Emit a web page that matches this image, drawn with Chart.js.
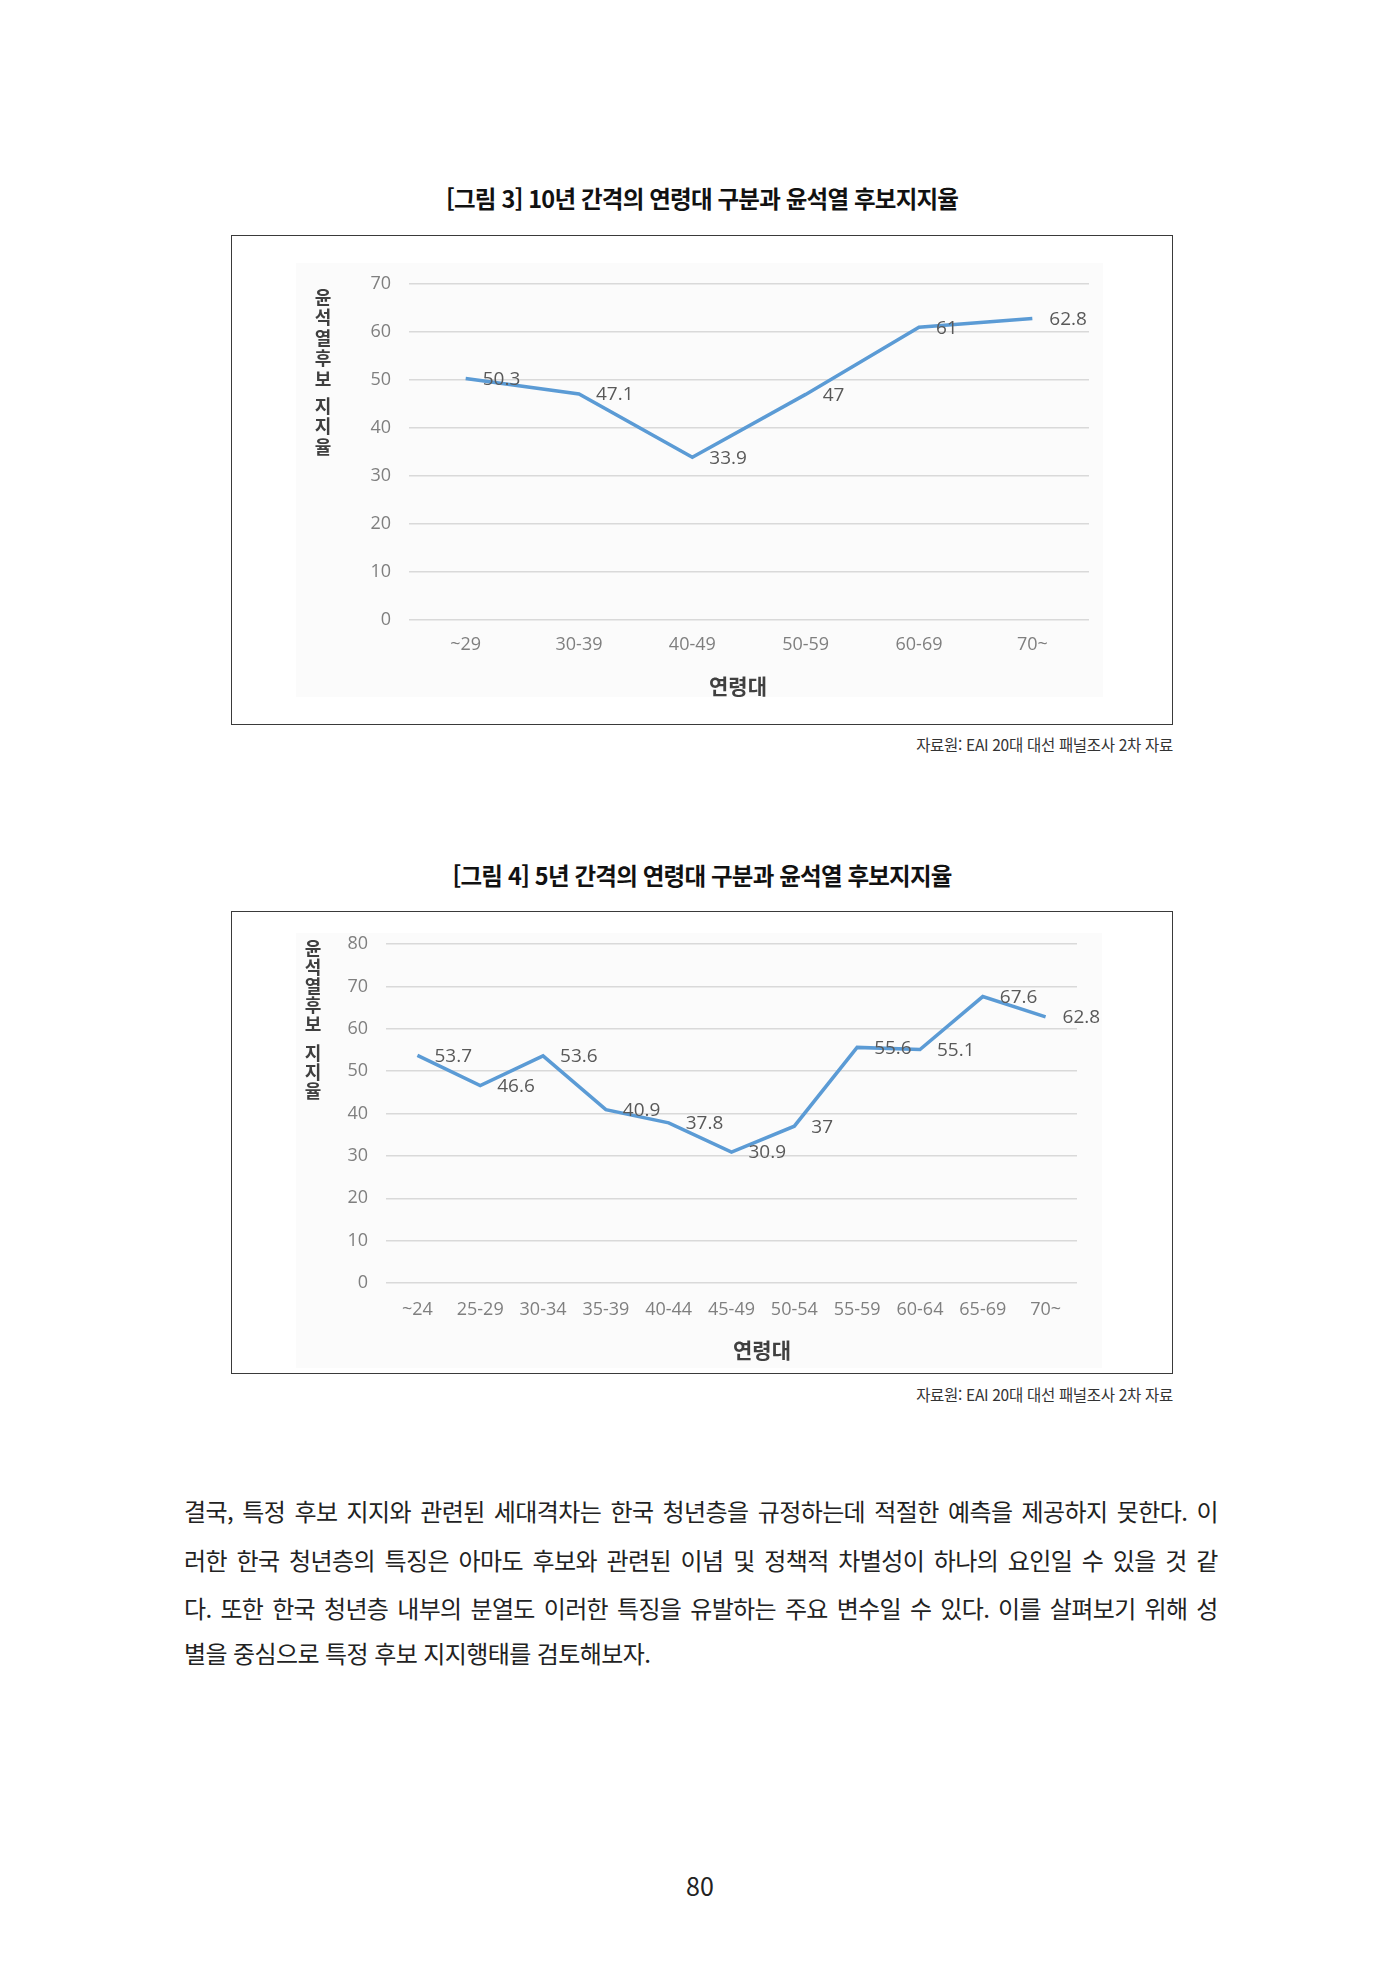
<!DOCTYPE html>
<html lang="ko">
<head>
<meta charset="utf-8">
<title>연령대 구분과 윤석열 후보지지율</title>
<script src="https://cdn.jsdelivr.net/npm/chart.js@4.4.1/dist/chart.umd.min.js"></script>
<style>
    html, body { margin: 0; padding: 0; background: #fff; }
    body { position: relative; width: 1400px; height: 1980px; overflow: hidden;
           font-family: "Noto Sans CJK KR", "Noto Sans", sans-serif; color: #222; }
    .fig-title { position: absolute; left: 302px; width: 800px; text-align: center;
                 font-size: 23.5px; font-weight: 700; color: #111; letter-spacing: -0.8px; line-height: 30px; }
    .frame { position: absolute; border: 1.5px solid #3a3a3a; box-sizing: border-box; }
    .plot-bg { position: absolute; background: #fbfbfb; }
    .source { position: absolute; right: 227px; font-size: 15.5px; color: #333; line-height: 20px; letter-spacing: -0.3px; }
    canvas { position: absolute; }
    .body-line { position: absolute; left: 184px; width: 1034px; font-size: 24px; line-height: 30px;
                 color: #222; white-space: nowrap; letter-spacing: -0.6px; }
    .justify { display: flex; justify-content: space-between; }
    .page-no { position: absolute; left: 600px; width: 200px; top: 1869px; text-align: center;
               font-size: 25px; line-height: 32px; color: #222; }
</style>
</head>
<body>

<div class="fig-title" style="top:183px;">[그림 3] 10년 간격의 연령대 구분과 윤석열 후보지지율</div>
<div class="frame" style="left:231px; top:235px; width:942px; height:490px;"></div>
<div class="plot-bg" style="left:296px; top:263px; width:807px; height:434px;"></div>
<canvas id="chartTen" width="940" height="487" style="left:232px; top:236px;"></canvas>
<div class="source" style="top:734px;">자료원: EAI 20대 대선 패널조사 2차 자료</div>

<div class="fig-title" style="top:860px;">[그림 4] 5년 간격의 연령대 구분과 윤석열 후보지지율</div>
<div class="frame" style="left:231px; top:911px; width:942px; height:463px;"></div>
<div class="plot-bg" style="left:296px; top:933px; width:806px; height:435px;"></div>
<canvas id="chartFive" width="940" height="459" style="left:232px; top:913px;"></canvas>
<div class="source" style="top:1384px;">자료원: EAI 20대 대선 패널조사 2차 자료</div>

<div id="bodyText"></div>
<div class="page-no">80</div>

<script>
// 10년 간격 연령대 (그림 3)
const tenYearAges = ['~29', '30-39', '40-49', '50-59', '60-69', '70~'];
const tenYearSupport = [50.3, 47.1, 33.9, 47, 61, 62.8];
const tenYearAxisMax = 70;

// 5년 간격 연령대 (그림 4)
const fiveYearAges = ['~24', '25-29', '30-34', '35-39', '40-44', '45-49', '50-54', '55-59', '60-64', '65-69', '70~'];
const fiveYearSupport = [53.7, 46.6, 53.6, 40.9, 37.8, 30.9, 37, 55.6, 55.1, 67.6, 62.8];
const fiveYearAxisMax = 80;

// axis titles
const yTitleText = '윤석열후보 지지율';
const xTitleText = '연령대';

// paragraph under the charts, one entry per printed line
const bodyLines = [
    '결국, 특정 후보 지지와 관련된 세대격차는 한국 청년층을 규정하는데 적절한 예측을 제공하지 못한다. 이',
    '러한 한국 청년층의 특징은 아마도 후보와 관련된 이념 및 정책적 차별성이 하나의 요인일 수 있을 것 같',
    '다. 또한 한국 청년층 내부의 분열도 이러한 특징을 유발하는 주요 변수일 수 있다. 이를 살펴보기 위해 성',
    '별을 중심으로 특정 후보 지지행태를 검토해보자.'
];

const lineBlue = '#5b9bd5';
const numFont = '"Open Sans", "Noto Sans", sans-serif';
const korFont = '"Noto Sans CJK KR", sans-serif';

// value labels to the right of each point + the two axis titles
const annotatePlugin = {
    id: 'annotate',
    afterDatasetsDraw(chart, args, opts) {
        const ctx = chart.ctx;
        const meta = chart.getDatasetMeta(0);
        const values = chart.data.datasets[0].data;
        ctx.save();
        ctx.font = opts.labelSize + 'px ' + numFont;
        ctx.fillStyle = '#595959';
        ctx.textAlign = 'left';
        ctx.textBaseline = 'middle';
        meta.data.forEach((pt, i) => {
            ctx.fillText(String(values[i]), pt.x + opts.labelDx, pt.y + 1);
        });

        // stacked vertical y title
        ctx.font = 'bold ' + opts.yTitle.size + 'px ' + korFont;
        ctx.fillStyle = '#3f3f3f';
        ctx.textAlign = 'center';
        let y = opts.yTitle.y;
        for (const ch of yTitleText) {
            if (ch === ' ') { y += opts.yTitle.gap; continue; }
            ctx.fillText(ch, opts.yTitle.x, y);
            y += opts.yTitle.step;
        }

        // x title
        ctx.font = 'bold ' + opts.xTitle.size + 'px ' + korFont;
        ctx.fillStyle = '#404040';
        ctx.fillText(xTitleText, opts.xTitle.x, opts.xTitle.y);
        ctx.restore();
    }
};

function buildChart(canvasId, labels, values, setup) {
    const ctx = document.getElementById(canvasId).getContext('2d');
    return new Chart(ctx, {
        type: 'line',
        data: {
            labels: labels,
            datasets: [{
                data: values,
                borderColor: lineBlue,
                borderWidth: 3.5,
                pointRadius: 0,
                tension: 0,
                fill: false
            }]
        },
        plugins: [annotatePlugin],
        options: {
            responsive: false,
            animation: false,
            devicePixelRatio: 1,
            layout: { padding: setup.padding },
            plugins: {
                legend: { display: false },
                tooltip: { enabled: false },
                annotate: setup.annotate
            },
            scales: {
                x: {
                    offset: true,
                    grid: { display: false, drawTicks: false },
                    border: { display: false },
                    ticks: {
                        color: '#7f7f7f',
                        padding: setup.xTickPad,
                        maxRotation: 0,
                        autoSkip: false,
                        font: { family: numFont, size: setup.xTickSize }
                    },
                    afterFit: scale => { scale.height = setup.xHeight; }
                },
                y: {
                    min: 0,
                    max: setup.yMax,
                    grid: { color: '#d9d9d9', lineWidth: 1.5, drawTicks: false },
                    border: { display: false },
                    ticks: {
                        stepSize: 10,
                        color: '#7f7f7f',
                        padding: 18,
                        font: { family: numFont, size: setup.yTickSize }
                    },
                    afterFit: scale => { scale.width = setup.yWidth; }
                }
            }
        }
    });
}

buildChart('chartTen', tenYearAges, tenYearSupport, {
    padding: { left: 0, top: 48, right: 83, bottom: 0 },
    yWidth: 177,
    xHeight: 103,
    yMax: tenYearAxisMax,
    xTickPad: 14,
    xTickSize: 18,
    yTickSize: 18,
    annotate: {
        labelSize: 19,
        labelDx: 17,
        yTitle: { x: 91, y: 61, step: 20.5, gap: 6.5, size: 18 },
        xTitle: { x: 506, y: 450, size: 21 }
    }
});

buildChart('chartFive', fiveYearAges, fiveYearSupport, {
    padding: { left: 0, top: 31, right: 95, bottom: 0 },
    yWidth: 154,
    xHeight: 89,
    yMax: fiveYearAxisMax,
    xTickPad: 16,
    xTickSize: 18,
    yTickSize: 18,
    annotate: {
        labelSize: 19,
        labelDx: 17,
        yTitle: { x: 81, y: 35, step: 19, gap: 10, size: 18 },
        xTitle: { x: 530, y: 437, size: 21 }
    }
});

// body paragraph: first three lines justified edge to edge
const bodyBox = document.getElementById('bodyText');
const lineTops = [1496, 1545, 1593, 1638];
bodyLines.forEach((text, i) => {
    const div = document.createElement('div');
    div.className = 'body-line';
    div.style.top = lineTops[i] + 'px';
    if (i < bodyLines.length - 1) {
        div.classList.add('justify');
        text.split(' ').forEach(word => {
            const span = document.createElement('span');
            span.textContent = word;
            div.appendChild(span);
        });
    } else {
        div.textContent = text;
    }
    bodyBox.appendChild(div);
});
</script>
</body>
</html>
